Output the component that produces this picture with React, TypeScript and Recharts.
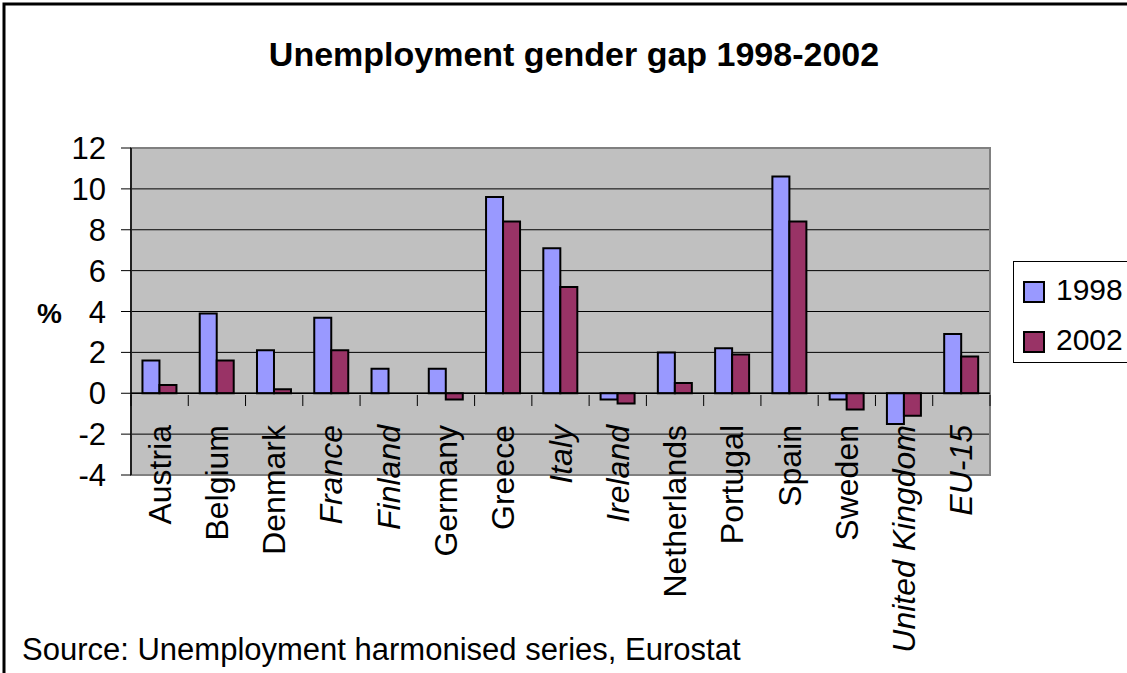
import React from "react";
import {
  BarChart,
  Bar,
  XAxis,
  YAxis,
  CartesianGrid,
  Legend,
  ReferenceLine,
  ReferenceArea,
} from "recharts";

const countries = [
  "Austria", "Belgium", "Denmark", "France", "Finland", "Germany", "Greece", "Italy",
  "Ireland", "Netherlands", "Portugal", "Spain", "Sweden", "United Kingdom", "EU-15",
];
const gap1998 = [1.6, 3.9, 2.1, 3.7, 1.2, 1.2, 9.6, 7.1, -0.3, 2.0, 2.2, 10.6, -0.3, -1.5, 2.9];
const gap2002 = [0.4, 1.6, 0.2, 2.1, 0, -0.3, 8.4, 5.2, -0.5, 0.5, 1.9, 8.4, -0.8, -1.1, 1.8];
const yTicks = [-4, -2, 0, 2, 4, 6, 8, 10, 12];
const italicLabels = ["France", "Finland", "Italy", "Ireland", "United Kingdom", "EU-15"];

const FONT = "'Liberation Sans', Arial, sans-serif";
const W = 1127;
const H = 673;
const PLOT_LEFT = 131;
const PLOT_RIGHT = 990;
const PLOT_TOP = 148;
const PLOT_BOTTOM = 475;
const BAND = (PLOT_RIGHT - PLOT_LEFT) / countries.length;
const ZERO_OFFSET = 80; // plot bottom to zero line, px

const data = countries.map((name, i) => ({
  name,
  y1998: gap1998[i],
  y2002: gap2002[i],
}));

const COLORS: Record<string, string> = { y1998: "#9999FF", y2002: "#993366" };

const CountryTick = (props: any) => {
  const { x, y, payload, index } = props;
  const zeroY = y - ZERO_OFFSET;
  const half = BAND / 2;
  const italic = italicLabels.includes(payload.value);
  return (
    <g>
      <line x1={x - half} y1={zeroY} x2={x - half} y2={zeroY + 11} stroke="#000" strokeWidth={1} />
      {index === countries.length - 1 && (
        <line x1={x + half} y1={zeroY} x2={x + half} y2={zeroY + 11} stroke="#000" strokeWidth={1} />
      )}
      <text
        transform={`translate(${x + 11},${zeroY + 30}) rotate(-90)`}
        textAnchor="end"
        fontSize={32}
        fontFamily={FONT}
        fontStyle={italic ? "italic" : "normal"}
        fill="#000"
      >
        {payload.value}
      </text>
    </g>
  );
};

const LegendBox = () => (
  <div
    style={{
      width: 120,
      height: 102,
      border: "1px solid #000",
      background: "#fff",
      fontFamily: FONT,
      fontSize: 30,
      boxSizing: "border-box",
      position: "relative",
    }}
  >
    {[
      { key: "y1998", label: "1998", top: 17 },
      { key: "y2002", label: "2002", top: 67 },
    ].map((it) => (
      <div key={it.key} style={{ position: "absolute", left: 9, top: it.top, display: "flex", alignItems: "center" }}>
        <span
          style={{
            display: "inline-block",
            width: 18,
            height: 18,
            background: COLORS[it.key],
            border: "2px solid #000",
            marginRight: 11,
          }}
        />
        <span style={{ lineHeight: "30px", marginTop: -4 }}>{it.label}</span>
      </div>
    ))}
  </div>
);

export default function App() {
  return (
    <div style={{ position: "absolute", left: 0, top: 0, width: W, height: H, background: "#fff", overflow: "hidden" }}>
      <BarChart
        width={W}
        height={H}
        data={data}
        margin={{ top: PLOT_TOP, right: W - PLOT_RIGHT, bottom: 0, left: 0 }}
        barCategoryGap="20%"
        barGap={0}
      >
        <CartesianGrid vertical={false} stroke="#000" strokeWidth={1} fill="#C0C0C0" fillOpacity={1} />
        <ReferenceArea y1={-4} y2={12} fill="none" stroke="#808080" strokeWidth={2} ifOverflow="visible" />
        <XAxis
          dataKey="name"
          interval={0}
          height={H - PLOT_BOTTOM}
          axisLine={false}
          tickLine={false}
          tickSize={0}
          tickMargin={0}
          tick={<CountryTick />}
        />
        <YAxis
          width={PLOT_LEFT}
          domain={[-4, 12]}
          ticks={yTicks}
          interval={0}
          axisLine={{ stroke: "#000", strokeWidth: 1.5 }}
          tickLine={{ stroke: "#000" }}
          tickSize={10}
          tickMargin={15}
          tick={{ fill: "#000", fontSize: 31, fontFamily: FONT }}
        />
        <ReferenceLine y={0} stroke="#000" strokeWidth={1.5} />
        <Legend
          layout="vertical"
          align="center"
          verticalAlign="middle"
          content={<LegendBox />}
          wrapperStyle={{ left: 1013, top: 261, width: 120, height: 102 }}
        />
        <Bar dataKey="y1998" name="1998" fill={COLORS.y1998} stroke="#000" strokeWidth={2} isAnimationActive={false} />
        <Bar dataKey="y2002" name="2002" fill={COLORS.y2002} stroke="#000" strokeWidth={2} isAnimationActive={false} />
      </BarChart>
      <svg
        width={W}
        height={H}
        style={{ position: "absolute", left: 0, top: 0, pointerEvents: "none" }}
      >
        <rect x={4} y={4} width={W + 20} height={H + 20} fill="none" stroke="#000" strokeWidth={3} />
        <text x={574} y={66} textAnchor="middle" fontFamily={FONT} fontWeight="bold" fontSize={34} fill="#000">
          Unemployment gender gap 1998-2002
        </text>
        <text x={37} y={323} fontFamily={FONT} fontWeight="bold" fontSize={28} fill="#000">
          %
        </text>
        <text x={22} y={660} fontFamily={FONT} fontSize={31} fill="#000">
          Source: Unemployment harmonised series, Eurostat
        </text>
      </svg>
    </div>
  );
}
